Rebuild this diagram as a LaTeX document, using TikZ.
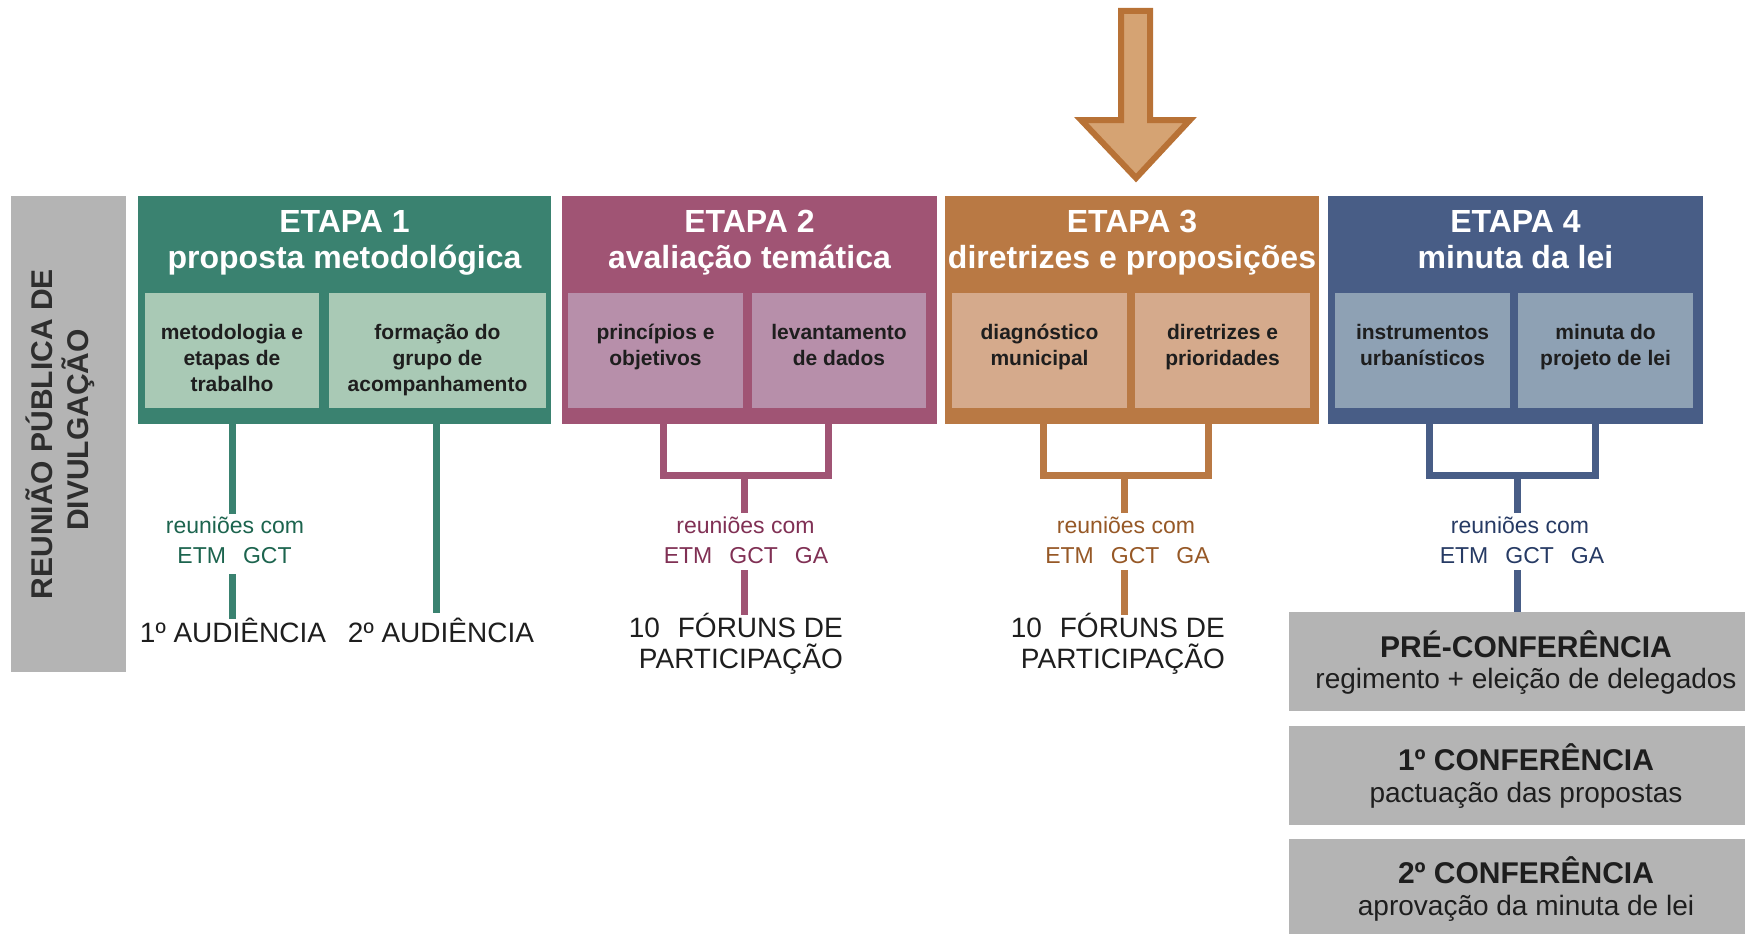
\documentclass[tikz,border=0pt]{standalone}
\usepackage{fontspec}
\setmainfont{Liberation Sans}
\definecolor{gA}{RGB}{58,130,112}
\definecolor{gAs}{RGB}{169,201,181}
\definecolor{gAt}{RGB}{28,100,78}
\definecolor{mA}{RGB}{160,84,116}
\definecolor{mAs}{RGB}{183,143,170}
\definecolor{mAt}{RGB}{128,48,84}
\definecolor{oA}{RGB}{185,121,68}
\definecolor{oAs}{RGB}{213,170,140}
\definecolor{oAt}{RGB}{150,88,38}
\definecolor{bA}{RGB}{72,93,134}
\definecolor{bAs}{RGB}{142,161,180}
\definecolor{bAt}{RGB}{38,58,100}
\definecolor{grayA}{RGB}{180,180,180}
\definecolor{arrowfill}{RGB}{213,163,115}
\definecolor{arrowline}{RGB}{184,114,54}
\definecolor{txtdark}{RGB}{30,30,30}
\tikzset{
  box/.style={draw=none, inner sep=0pt, outer sep=0pt, anchor=north west},
  etapabox/.style={box, minimum height=228pt},
  subbox/.style={box, minimum height=115pt},
  ttl/.style={text=white, font=\fontsize{32}{37}\bfseries\selectfont, anchor=base, inner sep=0pt},
  subtxt/.style={text=txtdark, font=\fontsize{21}{26}\bfseries\selectfont, align=center, anchor=north, inner sep=0pt},
  conn/.style={line width=7pt, line join=miter},
  meet/.style={font=\fontsize{23}{27}\selectfont, anchor=base, inner sep=0pt},
  evt/.style={text=txtdark, font=\fontsize{28}{31}\selectfont, inner sep=0pt},
  conf/.style={box, fill=grayA, minimum width=456pt, minimum height=99pt},
  conftitle/.style={text=txtdark, font=\fontsize{30}{34}\bfseries\selectfont, anchor=base, inner sep=0pt},
  confsub/.style={text=txtdark, font=\fontsize{28}{31}\selectfont, anchor=base, inner sep=0pt},
  bartxt/.style={text=black!82, font=\fontsize{30}{34}\bfseries\selectfont, anchor=base, rotate=90, inner sep=0pt},
}
\begin{document}
\begin{tikzpicture}[x=1pt,y=1pt]
\useasboundingbox (0,0) rectangle (1745,-934);

% left bar
\node[box, fill=grayA, minimum width=115pt, minimum height=476pt] (bar) at (11,-196) {};
\node[bartxt] (barA) at (52,-434) {REUNIÃO PÚBLICA DE};
\node[bartxt] (barB) at (88,-430) {DIVULGAÇÃO};

% arrow
\draw[fill=arrowfill, draw=arrowline, line width=6pt, line join=miter]
  (1121,-11) -- (1150,-11) -- (1150,-120) -- (1190,-120) -- (1136,-178)
  -- (1081,-120) -- (1121,-120) -- cycle;

% ETAPA boxes
\node[etapabox, fill=gA, minimum width=413pt] (e1) at (138,-196) {};
\node[etapabox, fill=mA, minimum width=375pt] (e2) at (562,-196) {};
\node[etapabox, fill=oA, minimum width=374pt] (e3) at (945,-196) {};
\node[etapabox, fill=bA, minimum width=375pt] (e4) at (1328,-196) {};

\node[ttl] (t1a) at (344.5,-232) {ETAPA 1};
\node[ttl] (t1b) at (344.5,-268) {proposta metodológica};
\node[ttl] (t2a) at (749.5,-232) {ETAPA 2};
\node[ttl] (t2b) at (749.5,-268) {avaliação temática};
\node[ttl] (t3a) at (1132,-232) {ETAPA 3};
\node[ttl] (t3b) at (1132,-268) {diretrizes e proposições};
\node[ttl] (t4a) at (1515.5,-232) {ETAPA 4};
\node[ttl] (t4b) at (1515.5,-268) {minuta da lei};

% sub boxes
\node[subbox, fill=gAs, minimum width=174pt] (s1a) at (145,-293) {};
\node[subbox, fill=gAs, minimum width=217pt] (s1b) at (329,-293) {};
\node[subbox, fill=mAs, minimum width=175pt] (s2a) at (568,-293) {};
\node[subbox, fill=mAs, minimum width=174pt] (s2b) at (752,-293) {};
\node[subbox, fill=oAs, minimum width=175pt] (s3a) at (952,-293) {};
\node[subbox, fill=oAs, minimum width=175pt] (s3b) at (1135,-293) {};
\node[subbox, fill=bAs, minimum width=175pt] (s4a) at (1335,-293) {};
\node[subbox, fill=bAs, minimum width=175pt] (s4b) at (1518,-293) {};

\node[subtxt] (x1a) at ([yshift=-31pt]s1a.north) {metodologia e\\etapas de\\trabalho};
\node[subtxt] (x1b) at ([yshift=-31pt]s1b.north) {formação do\\grupo de\\acompanhamento};
\node[subtxt] (x2a) at ([yshift=-31pt]s2a.north) {princípios e\\objetivos};
\node[subtxt] (x2b) at ([yshift=-31pt]s2b.north) {levantamento\\de dados};
\node[subtxt] (x3a) at ([yshift=-31pt]s3a.north) {diagnóstico\\municipal};
\node[subtxt] (x3b) at ([yshift=-31pt]s3b.north) {diretrizes e\\prioridades};
\node[subtxt] (x4a) at ([yshift=-31pt]s4a.north) {instrumentos\\urbanísticos};
\node[subtxt] (x4b) at ([yshift=-31pt]s4b.north) {minuta do\\projeto de lei};

% meeting labels
\node[meet, text=gAt] (m1a) at (235,-533) {reuniões com};
\node[meet, text=gAt] (m1b) at (234.5,-563) {ETM\hspace{17pt}GCT};
\node[meet, text=mAt] (m2a) at (745.5,-533) {reuniões com};
\node[meet, text=mAt] (m2b) at (746,-563) {ETM\hspace{17pt}GCT\hspace{17pt}GA};
\node[meet, text=oAt] (m3a) at (1126,-533) {reuniões com};
\node[meet, text=oAt] (m3b) at (1127.5,-563) {ETM\hspace{17pt}GCT\hspace{17pt}GA};
\node[meet, text=bAt] (m4a) at (1520,-533) {reuniões com};
\node[meet, text=bAt] (m4b) at (1522,-563) {ETM\hspace{17pt}GCT\hspace{17pt}GA};

% events
\node[evt, anchor=base] (a1) at (233,-642) {1º AUDIÊNCIA};
\node[evt, anchor=base] (a2) at (441,-642) {2º AUDIÊNCIA};
\node[evt, anchor=base east] (f2a) at (843,-637) {10\hspace{18pt}FÓRUNS DE};
\node[evt, anchor=base east] (f2b) at (843,-668) {PARTICIPAÇÃO};
\node[evt, anchor=base east] (f3a) at (1225,-637) {10\hspace{18pt}FÓRUNS DE};
\node[evt, anchor=base east] (f3b) at (1225,-668) {PARTICIPAÇÃO};

% conference boxes
\node[conf] (cf1) at (1289,-612) {};
\node[conf] (cf2) at (1289,-726) {};
\node[conf, minimum height=95pt] (cf3) at (1289,-839) {};
\node[conftitle] (cf1t) at (1526,-657) {PRÉ-CONFERÊNCIA};
\node[confsub] (cf1s) at (1526,-688) {regimento + eleição de delegados};
\node[conftitle] (cf2t) at (1526,-770) {1º CONFERÊNCIA};
\node[confsub] (cf2s) at (1526,-802) {pactuação das propostas};
\node[conftitle] (cf3t) at (1526,-883) {2º CONFERÊNCIA};
\node[confsub] (cf3s) at (1526,-915) {aprovação da minuta de lei};

% connector coordinates
\coordinate (j1a) at (232,-420);  \coordinate (j1b) at (232,-514);
\coordinate (j1c) at (232,-574);  \coordinate (j1d) at (232,-619);
\coordinate (j1e) at (436,-420);  \coordinate (j1f) at (436,-613);

\coordinate (j2l) at (663,-420);  \coordinate (j2r) at (828,-420);
\coordinate (j2m) at (744,-475);  \coordinate (j2b) at (744,-513);
\coordinate (j2c) at (744,-570);  \coordinate (j2d) at (744,-615);

\coordinate (j3l) at (1043,-420); \coordinate (j3r) at (1208,-420);
\coordinate (j3m) at (1124,-475); \coordinate (j3b) at (1124,-513);
\coordinate (j3c) at (1124,-570); \coordinate (j3d) at (1124,-615);

\coordinate (j4l) at (1429,-420); \coordinate (j4r) at (1595,-420);
\coordinate (j4m) at (1517,-475); \coordinate (j4b) at (1517,-513);
\coordinate (j4c) at (1517,-570);

% connectors
\draw[conn, draw=gA] (j1a) -- (j1b);
\draw[conn, draw=gA] (j1c) -- (j1d);
\draw[conn, draw=gA] (j1e) -- (j1f);

\draw[conn, draw=mA] (j2l) |- (j2m) -| (j2r);
\draw[conn, draw=mA] (j2m) -- (j2b);
\draw[conn, draw=mA] (j2c) -- (j2d);

\draw[conn, draw=oA] (j3l) |- (j3m) -| (j3r);
\draw[conn, draw=oA] (j3m) -- (j3b);
\draw[conn, draw=oA] (j3c) -- (j3d);

\draw[conn, draw=bA] (j4l) |- (j4m) -| (j4r);
\draw[conn, draw=bA] (j4m) -- (j4b);
\draw[conn, draw=bA] (j4c) -- (j4c |- cf1.north);
\end{tikzpicture}
\end{document}
